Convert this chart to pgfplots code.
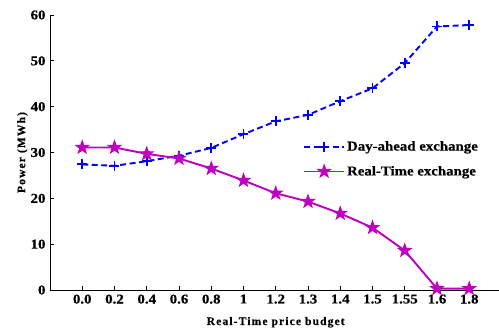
\documentclass[border=0pt]{standalone}
\usepackage{fontspec}
\setmainfont{Liberation Serif}[UprightFont=* Bold, BoldFont=* Bold, FakeBold=0.6]
\usepackage{pgfplots}
\pgfplotsset{compat=1.18}
\definecolor{mag}{RGB}{191,0,191}
\pgfdeclareplotmark{pentagram}{%
  \pgfpathmoveto{\pgfpointpolar{90}{\pgfplotmarksize}}%
  \pgfpathlineto{\pgfpointpolar{126}{0.4\pgfplotmarksize}}%
  \pgfpathlineto{\pgfpointpolar{162}{\pgfplotmarksize}}%
  \pgfpathlineto{\pgfpointpolar{198}{0.4\pgfplotmarksize}}%
  \pgfpathlineto{\pgfpointpolar{234}{\pgfplotmarksize}}%
  \pgfpathlineto{\pgfpointpolar{270}{0.4\pgfplotmarksize}}%
  \pgfpathlineto{\pgfpointpolar{306}{\pgfplotmarksize}}%
  \pgfpathlineto{\pgfpointpolar{342}{0.4\pgfplotmarksize}}%
  \pgfpathlineto{\pgfpointpolar{18}{\pgfplotmarksize}}%
  \pgfpathlineto{\pgfpointpolar{54}{0.4\pgfplotmarksize}}%
  \pgfpathclose
  \pgfusepathqfillstroke}
\begin{document}
\begin{tikzpicture}
\begin{axis}[
  at={(50pt,39pt)}, anchor=south west,
  scale only axis,
  width=451.5pt, height=275pt,
  xmin=0, xmax=14, ymin=0, ymax=60,
  axis x line=bottom, axis y line=left,
  axis line style={-, line width=0.9pt},
  tick align=inside,
  major tick length=4pt,
  tick style={line width=0.9pt, black},
  xtick={1,2,3,4,5,6,7,8,9,10,11,12,13},
  xticklabels={0.0,0.2,0.4,0.6,0.8,1,1.2,1.3,1.4,1.5,1.55,1.6,1.8},
  ytick={0,10,20,30,40,50,60},
  /pgf/number format/assume math mode=true,
  ticklabel style={font=\addfontfeatures{FakeStretch=1.1}\fontsize{13.5}{13.5}\selectfont},
  xticklabel style={yshift=-1pt},
  yticklabel style={xshift=-1pt},
  xlabel={Real-Time price budget},
  ylabel={Power (MWh)},
  label style={font=\addfontfeatures{LetterSpace=10}\fontsize{11.5}{11.5}\selectfont},
  xlabel style={at={(axis description cs:0.5,0)}, anchor=base, yshift=-35pt},
  ylabel style={at={(axis description cs:-0.055,0.5)}, anchor=base},
  legend style={at={(253pt,151pt)}, anchor=north west, draw=none, fill=none,
    font=\addfontfeatures{FakeStretch=1.1}\fontsize{13.5}{14}\selectfont, row sep=10pt, inner sep=0pt,
    /tikz/every even column/.append style={column sep=10pt}},
  legend image code/.code={
    \draw[mark repeat=2, mark phase=2, #1] plot coordinates {(0pt,0pt) (20pt,0pt) (40pt,0pt)};
  },
  legend cell align=left,
]
\addplot[blue, line width=1.9pt, dash pattern=on 6pt off 3.5pt, mark=+, mark size=5pt, mark options={solid, line width=1.9pt}]
coordinates {(1,27.4)(2,27.1)(3,28.1)(4,29.3)(5,31.0)(6,34.0)(7,36.8)(8,38.2)(9,41.2)(10,44.0)(11,49.5)(12,57.5)(13,57.8)};
\addlegendentry{Day-ahead exchange}
\addplot[mag, line width=1.9pt, mark=pentagram, mark size=5.3pt, mark options={solid, line width=1.9pt, fill=mag, draw=mag}]
coordinates {(1,31.1)(2,31.1)(3,29.7)(4,28.7)(5,26.5)(6,23.9)(7,21.1)(8,19.3)(9,16.7)(10,13.6)(11,8.6)(12,0.3)(13,0.3)};
\addlegendentry{Real-Time exchange}
\end{axis}
\pgfresetboundingbox
\path[use as bounding box] (0,0) rectangle (499pt,329pt);
\end{tikzpicture}
\end{document}
